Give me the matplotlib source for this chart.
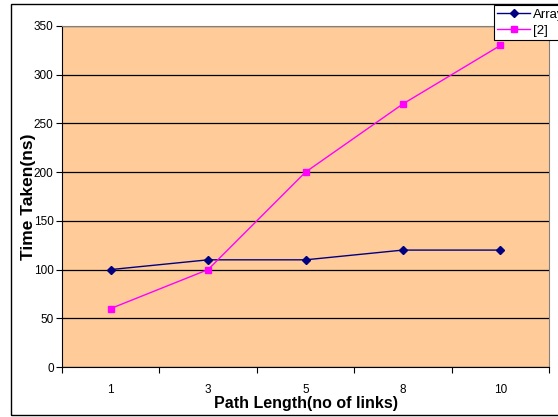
import matplotlib.pyplot as plt
from matplotlib.patches import Rectangle

plt.rcParams['font.family'] = ['Liberation Sans', 'DejaVu Sans']

path_lengths = ['1', '3', '5', '8', '10']
array_times = [100, 110, 110, 120, 120]
ref2_times = [60, 100, 200, 270, 330]

fig = plt.figure(figsize=(5.58, 4.17), dpi=100)
W, H = 558, 417
ax = fig.add_axes([62 / W, 1 - 367 / H, (549 - 62) / W, (367 - 26) / H])
ax.set_facecolor('#FFCC99')

x = range(len(path_lengths))
ax.plot(x, array_times, color='#000080', marker='D', markersize=4.5, lw=1, label='Array')
ax.plot(x, ref2_times, color='#FF00FF', marker='s', markersize=5, lw=1, label='[2]')

ax.set_xlim(-0.5, len(path_lengths) - 0.5)
ax.set_ylim(0, 350)
ax.set_yticks(range(0, 351, 50))
ax.yaxis.grid(True, color='black', lw=0.9)
ax.set_axisbelow(True)

# category labels sit between the tick marks
ax.set_xticks([i - 0.5 for i in range(len(path_lengths) + 1)])
ax.set_xticklabels([])
ax.set_xticks(list(x), minor=True)
ax.set_xticklabels(path_lengths, minor=True)
ax.tick_params(axis='x', which='minor', length=0, pad=12, labelsize=8.5)
ax.tick_params(axis='x', which='major', length=4, direction='out')
ax.tick_params(axis='y', length=4, labelsize=8.5, pad=2)

for side in ['top', 'right']:
    ax.spines[side].set_color('#808080')

ax.set_xlabel('Path Length(no of links)', fontsize=11.5, fontweight='bold', labelpad=0)
ax.set_ylabel('Time Taken(ns)', fontsize=12.5, fontweight='bold')
ax.yaxis.set_label_coords(-0.054, 0.5)

fig.patches.append(Rectangle((11 / W, 2 / H), 1.2, 1 - 6 / H, transform=fig.transFigure,
                             fill=False, edgecolor='black', lw=1))

leg = fig.legend(loc='upper left', bbox_to_anchor=(494 / W, 1 - 5 / H), fontsize=9.5,
                 frameon=True, fancybox=False, edgecolor='black', framealpha=1,
                 borderpad=0.25, handlelength=2.5, labelspacing=0.3, handletextpad=0.2,
                 borderaxespad=0)
leg.get_frame().set_linewidth(0.8)

fig.savefig('out.png', dpi=100)
